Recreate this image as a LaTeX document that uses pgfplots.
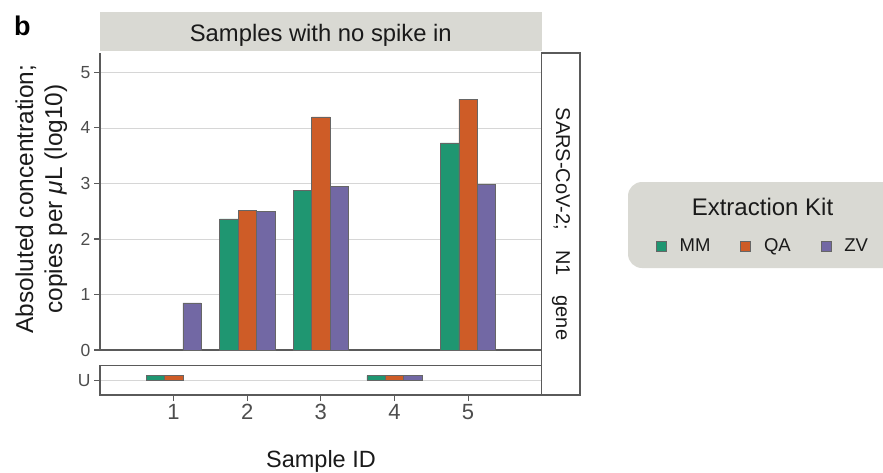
\documentclass[border=0pt]{standalone}
\usepackage{fontspec}
\setmainfont{Liberation Sans}
\usepackage{pgfplots}
\pgfplotsset{compat=1.18}

\definecolor{mm}{HTML}{1F9671}
\definecolor{qa}{HTML}{CE5C27}
\definecolor{zv}{HTML}{7268A4}
\definecolor{stripgray}{HTML}{D9D9D3}
\definecolor{axgray}{HTML}{5A5A5A}
\definecolor{gridgray}{HTML}{D6D6D6}
\definecolor{ticktext}{HTML}{4D4D4D}
\definecolor{titletext}{HTML}{1A1A1A}

\pgfplotsset{
  panel/.style={
    scale only axis, width=441.7pt, xmin=0, xmax=6,
    axis line style={axgray, line width=1.1pt},
    tick style={axgray, line width=1.1pt},
    major tick length=6pt, tick align=outside,
    ytick pos=left, xtick pos=bottom,
    ymajorgrids, grid style={gridgray, line width=0.8pt},
    yticklabel style={font=\fontsize{17.5}{19}\selectfont, text=ticktext},
    /pgf/number format/assume math mode=true,
    ybar=0pt, bar width=18.4pt,
  },
  sqleg/.style={legend image code/.code={\fill[##1] (0pt,-5pt) rectangle (10pt,5pt);}},
}

\begin{document}
\begin{tikzpicture}
\path[use as bounding box] (0,0) rectangle (883pt,-472pt);

% panel label
\node[anchor=base west, font=\fontsize{27}{30}\selectfont\bfseries, inner sep=0pt] at (14pt,-35pt) {b};

% top facet strip
\fill[stripgray] (100pt,-11.7pt) rectangle (541.7pt,-51pt);
\node[anchor=base, font=\fontsize{23.8}{26}\selectfont, text=titletext] at (320.8pt,-41.7pt) {Samples with no spike in};

% legend background
\begin{scope}
  \clip (0,0) rectangle (883pt,-472pt);
  \fill[stripgray, rounded corners=14pt] (628pt,-182pt) rectangle (900pt,-268pt);
\end{scope}
\node[anchor=base, font=\fontsize{24}{26}\selectfont, text=titletext] at (762.5pt,-215pt) {Extraction Kit};

% y axis title
\node[rotate=90, anchor=base, font=\fontsize{24.4}{28}\selectfont, text=titletext] at (33pt,-199pt) {Absoluted concentration;};
\node[rotate=90, anchor=base, font=\fontsize{24.4}{28}\selectfont, text=titletext] at (62pt,-199pt) {copies per {\itshape μ}L (log10)};

% main panel
\begin{axis}[panel, at={(100pt,-350pt)}, anchor=south west, height=297pt,
  ymin=0, ymax=5.35, ytick={0,1,2,3,4,5},
  axis x line*=bottom, axis y line*=left, xtick=\empty,
  legend columns=3,
  legend style={at={(1.4988,0.350)}, anchor=center, draw=none, fill=none,
    font=\fontsize{18.5}{20}\selectfont, text=titletext, nodes={inner sep=0pt},
    /tikz/every odd column/.append style={column sep=13pt},
    /tikz/every even column/.append style={column sep=30pt}},
]
\addplot[fill=mm, draw=black!60, line width=0.6pt, sqleg] coordinates {(2,2.36) (3,2.87) (5,3.73)};
\addplot[fill=qa, draw=black!60, line width=0.6pt, sqleg] coordinates {(2,2.52) (3,4.20) (5,4.52)};
\addplot[fill=zv, draw=black!60, line width=0.6pt, sqleg] coordinates {(1,0.85) (2,2.50) (3,2.94) (5,2.98)};
\legend{MM, QA, ZV}
\end{axis}

% undetected panel
\begin{axis}[panel, at={(100pt,-395pt)}, anchor=south west, height=29.3pt,
  ymin=-1, ymax=1, ytick={0}, yticklabels={U},
  xtick={1,2,3,4,5},
  xticklabel style={font=\fontsize{22}{24}\selectfont, text=ticktext},
]
\addplot[fill=mm, draw=black!60, line width=0.6pt] coordinates {(1,0.32) (4,0.32)};
\addplot[fill=qa, draw=black!60, line width=0.6pt] coordinates {(1,0.32) (4,0.32)};
\addplot[fill=zv, draw=black!60, line width=0.6pt] coordinates {(4,0.32)};
\end{axis}

% right facet strip
\draw[axgray, line width=1.1pt] (541.7pt,-53pt) rectangle (580pt,-395pt);
\node[rotate=-90, font=\fontsize{20}{22}\selectfont, text=titletext] at (561pt,-224pt) {SARS-CoV-2;\hspace{20pt}N1\hspace{20pt}gene};

\node[anchor=base, font=\fontsize{23.5}{26}\selectfont, text=titletext] at (321pt,-467pt) {Sample ID};
\end{tikzpicture}
\end{document}
